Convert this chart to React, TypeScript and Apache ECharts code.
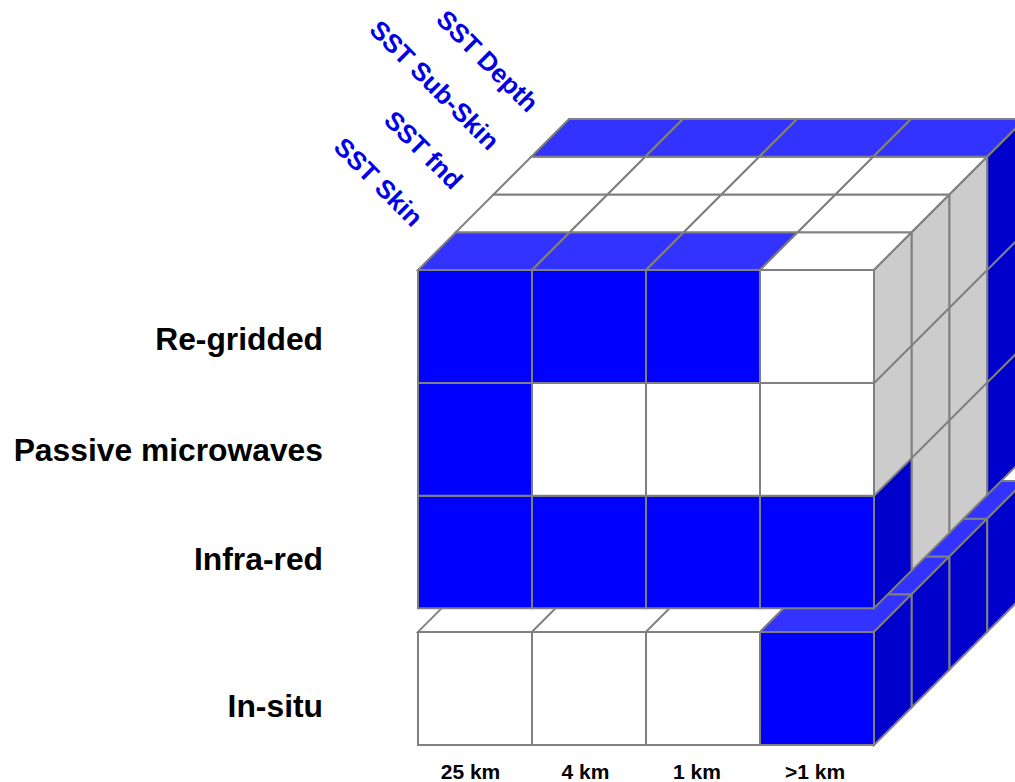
import React, { useEffect, useRef } from "react";
import * as echarts from "echarts";

// Labels
const resolutionLabels = ["25 km", "4 km", "1 km", ">1 km"];
const sensorLabels = ["Re-gridded", "Passive microwaves", "Infra-red", "In-situ"];
const productLabels = ["SST Skin", "SST fnd", "SST Sub-Skin", "SST Depth"];

// 1 = available (blue), 0 = not available. Columns are resolutions.
const regriddedFront = [1, 1, 1, 0];
const passiveFront = [1, 0, 0, 0];
const infraredFront = [1, 1, 1, 1];
const insituFront = [0, 0, 0, 1];

// Top of the cube: product (front to back) by resolution
const skinTop = [1, 1, 1, 0];
const fndTop = [0, 0, 0, 0];
const subSkinTop = [0, 0, 0, 0];
const depthTop = [1, 1, 1, 1];

// Top of the in-situ slab
const insituSkinTop = [0, 0, 0, 1];
const insituFndTop = [0, 0, 0, 1];
const insituSubSkinTop = [0, 0, 0, 1];
const insituDepthTop = [0, 0, 0, 1];

// Right side: sensor by product (front to back)
const regriddedSide = [0, 0, 0, 1];
const passiveSide = [0, 0, 0, 1];
const infraredSide = [1, 0, 0, 1];
const insituSide = [1, 1, 1, 1];

const FRONT = 0;
const TOP = 1;
const SIDE = 2;

type Cell = [number, number, number, number, number];

function topCells(layer: number, rows: number[][]): Cell[] {
  const out: Cell[] = [];
  rows.forEach((r, d) => r.forEach((v, c) => out.push([c, layer, d, TOP, v])));
  return out;
}
function sideCells(layer: number, vals: number[]): Cell[] {
  return vals.map((v, d) => [4, layer, d, SIDE, v] as Cell);
}
function frontCells(layer: number, vals: number[]): Cell[] {
  return vals.map((v, c) => [c, layer, 0, FRONT, v] as Cell);
}

const cells: Cell[] = [
  ...topCells(0, [insituSkinTop, insituFndTop, insituSubSkinTop, insituDepthTop]),
  ...sideCells(0, insituSide),
  ...frontCells(0, insituFront),
  ...topCells(3, [skinTop, fndTop, subSkinTop, depthTop]),
  ...sideCells(1, infraredSide),
  ...sideCells(2, passiveSide),
  ...sideCells(3, regriddedSide),
  ...frontCells(1, infraredFront),
  ...frontCells(2, passiveFront),
  ...frontCells(3, regriddedFront),
];

export default function App() {
  const ref = useRef<HTMLDivElement>(null);
  useEffect(() => {
    const chart = echarts.init(ref.current!, undefined, { renderer: "svg" });
    const layerBottom = [0, 1.21, 2.205, 3.2];
    const layerTop = [1, 2.205, 3.2, 4.2];
    const DX = 37.75 / 114;
    const DY = 37.75 / 113.1;
    const onFill = ["#0000ff", "#3333ff", "#0000cc"];
    const offFill = ["#ffffff", "#ffffff", "#cccccc"];
    const rowLabelStyle = {
      fontFamily: "Liberation Sans",
      fontWeight: "bold",
      fontSize: 31.8,
      fill: "#000000",
      textAlign: "right",
      textVerticalAlign: "middle",
    };
    const rowLabelY = [339, 450, 559, 706];
    const kmLabelX = [470.5, 585.5, 697, 815];
    const productPos = [
      [378.5, 182],
      [423.5, 150],
      [434.5, 85],
      [487.5, 61],
    ];
    chart.setOption({
      animation: false,
      backgroundColor: "#ffffff",
      grid: { left: 418, top: 270, width: 456, height: 475 },
      xAxis: { type: "value", min: 0, max: 4, show: false },
      yAxis: { type: "value", min: 0, max: 4.2, show: false },
      series: [
        {
          type: "custom",
          silent: true,
          clip: false,
          data: cells,
          renderItem: (_p: any, api: any) => {
            const c = api.value(0);
            const layer = api.value(1);
            const d = api.value(2);
            const face = api.value(3);
            const on = api.value(4);
            const yb = layerBottom[layer];
            const yt = layerTop[layer];
            const P = (x: number, y: number, dd: number) =>
              api.coord([x + dd * DX, y + dd * DY]);
            let points;
            if (face === FRONT) {
              points = [P(c, yb, 0), P(c + 1, yb, 0), P(c + 1, yt, 0), P(c, yt, 0)];
            } else if (face === TOP) {
              points = [P(c, yt, d), P(c + 1, yt, d), P(c + 1, yt, d + 1), P(c, yt, d + 1)];
            } else {
              points = [P(c, yb, d), P(c, yb, d + 1), P(c, yt, d + 1), P(c, yt, d)];
            }
            return {
              type: "polygon",
              shape: { points },
              style: {
                fill: on ? onFill[face] : offFill[face],
                stroke: "#808080",
                lineWidth: 2,
                lineJoin: "miter",
              },
            };
          },
        },
      ],
      graphic: [
        ...sensorLabels.map((t, i) => ({
          type: "text",
          x: 323,
          y: rowLabelY[i],
          style: { ...rowLabelStyle, text: t },
        })),
        ...resolutionLabels.map((t, i) => ({
          type: "text",
          x: kmLabelX[i],
          y: 771,
          style: {
            text: t,
            fontFamily: "Liberation Sans",
            fontWeight: "bold",
            fontSize: 21,
            fill: "#000000",
            textAlign: "center",
            textVerticalAlign: "middle",
          },
        })),
        ...productLabels.map((t, i) => ({
          type: "text",
          x: productPos[i][0],
          y: productPos[i][1],
          rotation: -Math.PI / 4,
          style: {
            text: t,
            fontFamily: "Liberation Sans",
            fontWeight: "bold",
            fontSize: 26,
            fill: "#0000e6",
            textAlign: "center",
            textVerticalAlign: "middle",
          },
        })),
      ],
    });
    return () => chart.dispose();
  }, []);
  return (
    <div
      ref={ref}
      style={{ position: "absolute", left: 0, top: 0, width: 1015, height: 782, overflow: "hidden" }}
    />
  );
}
